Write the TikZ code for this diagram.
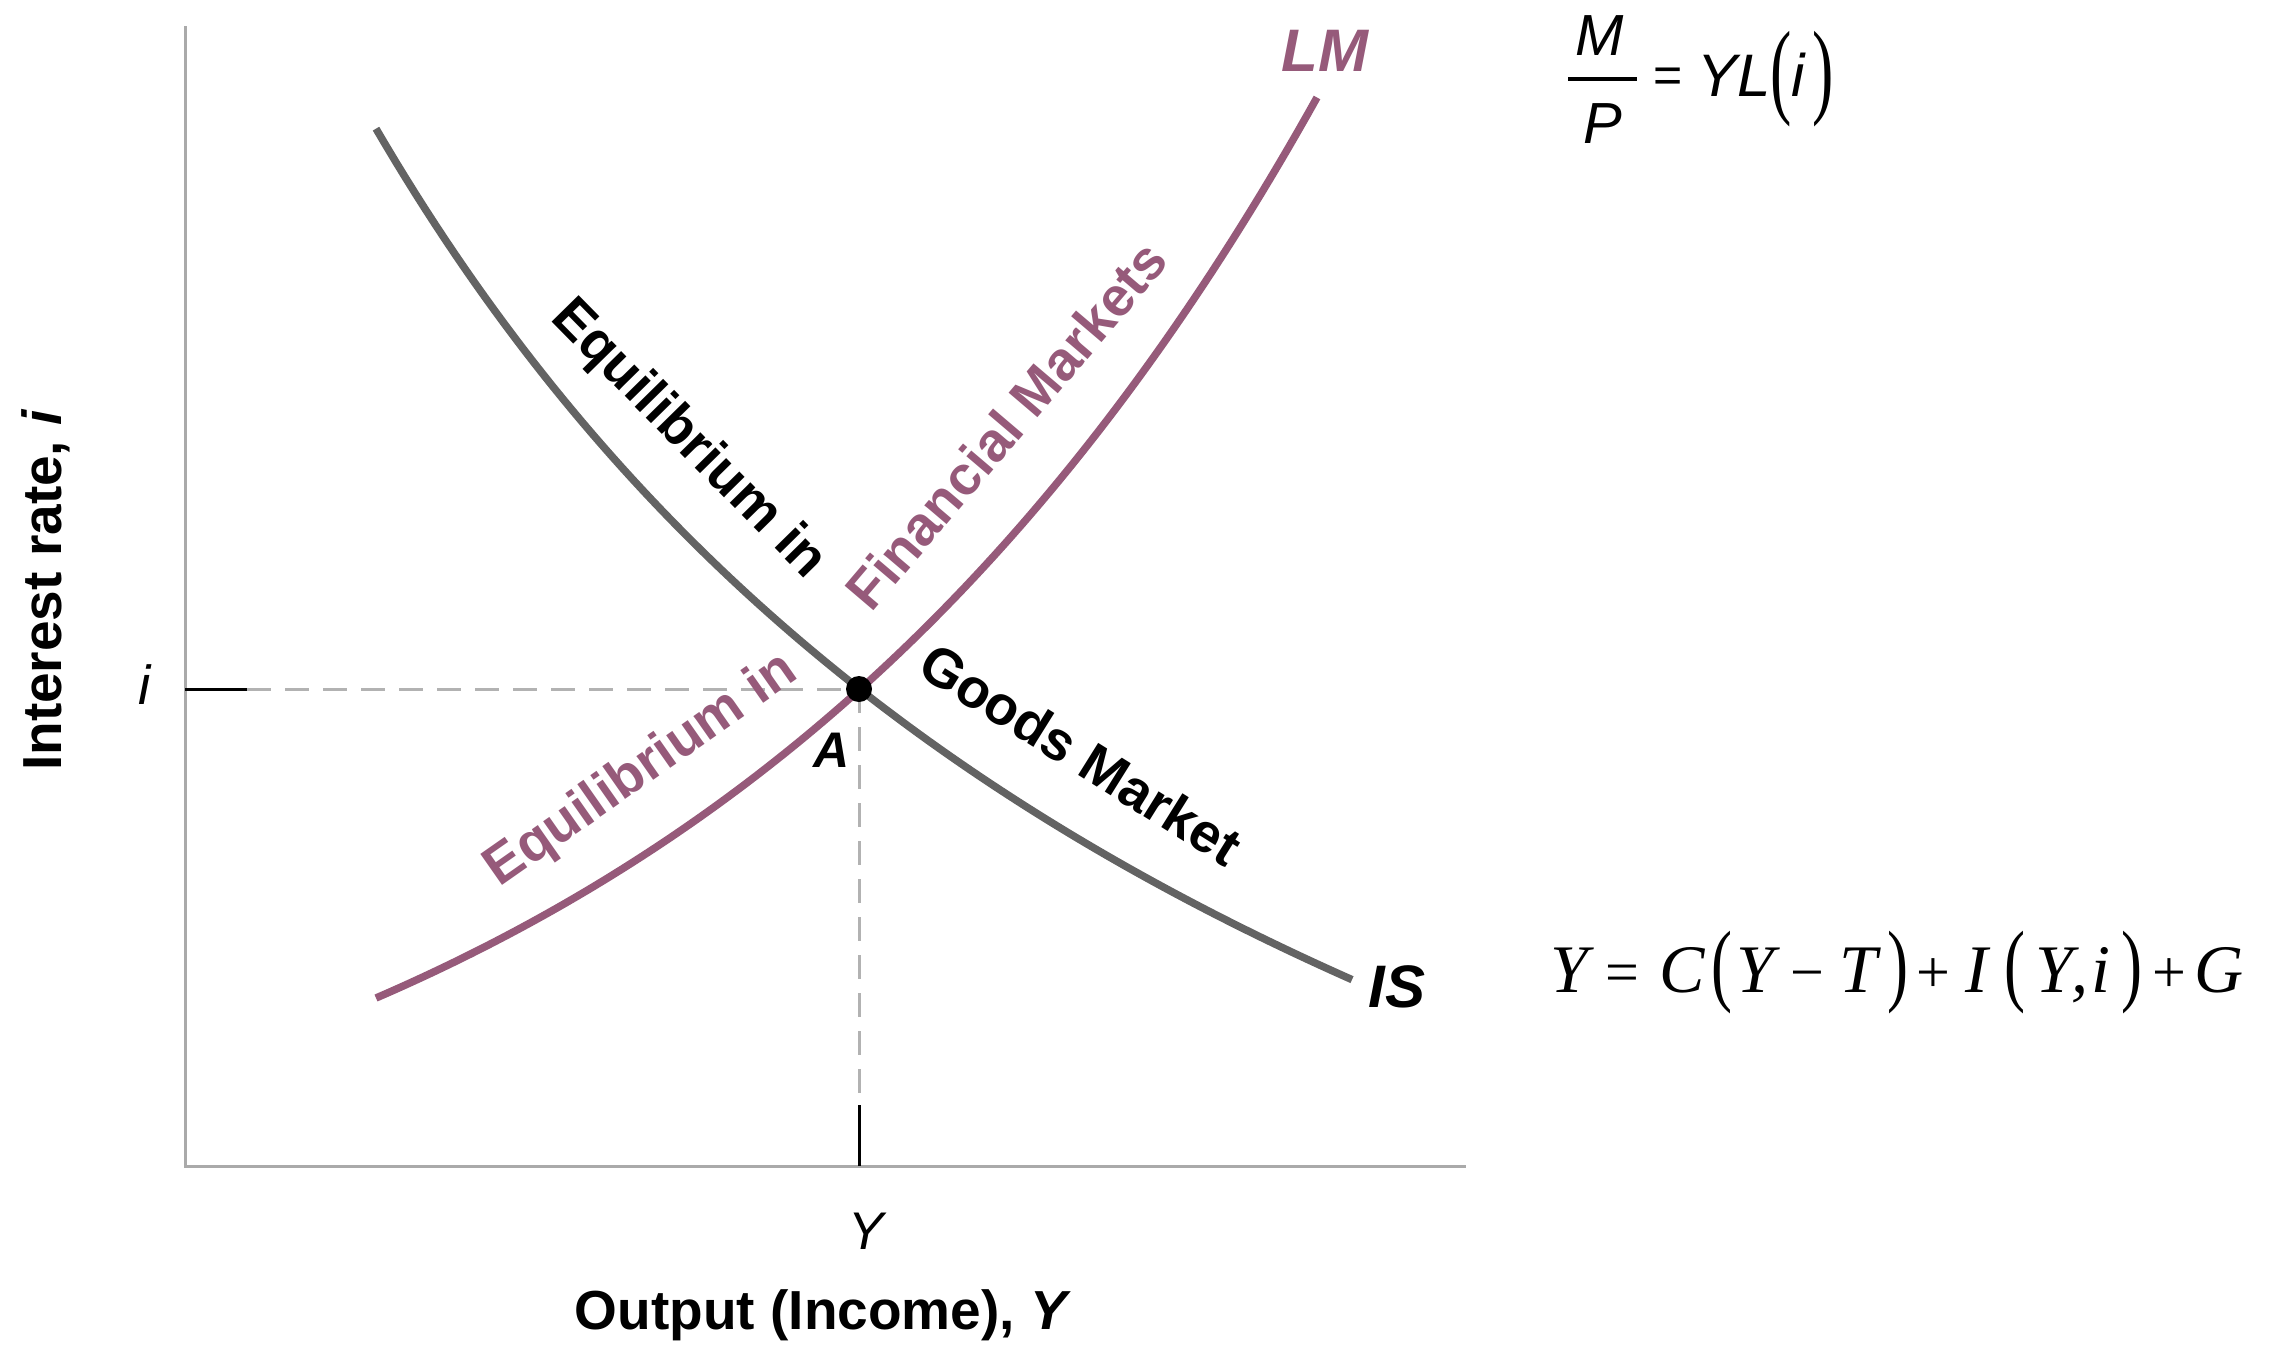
\documentclass[tikz,border=0pt]{standalone}
\usepackage{fontspec}
\setmainfont{Liberation Sans}
\newfontfamily\eqserif{Liberation Serif}
\newcommand{\fsz}[1]{\fontsize{#1}{#1}\selectfont}
\definecolor{lmcol}{RGB}{150,90,122}
\definecolor{iscol}{RGB}{99,99,99}
\definecolor{axcol}{RGB}{170,170,170}
\definecolor{dashcol}{RGB}{178,178,178}
\begin{document}
\begin{tikzpicture}[x=1pt,y=-1pt,
  axisline/.style={draw=axcol,line width=3pt},
  tickline/.style={draw=black,line width=3pt},
  guide/.style={draw=dashcol,line width=3pt,dash pattern=on 24pt off 14pt},
  isline/.style={draw=iscol,line width=7.5pt},
  lmline/.style={draw=lmcol,line width=7.5pt},
  curvetext/.style={font=\fsz{55}\bfseries,inner sep=0pt},
  lbl/.style={inner sep=0pt},
  eqs/.style={inner sep=0pt,anchor=base,font=\eqserif\fsz{68}\itshape},
  eqop/.style={inner sep=0pt,anchor=base,font=\eqserif\fsz{60}},
  eqpar/.style={inner sep=0pt,anchor=center,font=\eqserif\fsz{63}},
  dot/.style={circle,fill=black,inner sep=0pt,minimum size=26pt}]
\useasboundingbox (0,0) rectangle (2271,1347);
\fill[white] (0,0) rectangle (2271,1347);

% axes
\coordinate (ytop) at (185,26);
\coordinate (orig) at (185,1166);
\coordinate (xend) at (1466,1166);
\draw[axisline] (ytop) -- (orig) -- (xend);

% equilibrium point and guides
\coordinate (A) at (859,689);
\coordinate (itick0) at (185,689);
\coordinate (itick1) at (247,689);
\coordinate (ytick0) at (859,1166);
\coordinate (ytick1) at (859,1105);
\draw[guide] (itick1) -- (A);
\draw[guide] (A) -- (ytick1);
\draw[tickline] (itick0) -- (itick1);
\draw[tickline] (ytick0) -- (ytick1);

% IS curve
\draw[isline] plot[domain=376:1352,samples=100] (\x,{1862 - 10*(1754.133/((\x+636)/100))});
% LM curve
\draw[lmline] plot[domain=376:1317,samples=100] (\x,{1284.5 - 286.5*exp(0.001515*(\x-376))});

\node[dot] (Adot) at (A) {};

% curve labels
\node[curvetext,text=black,rotate=-45.5] (eqgoods1) at (688,440) {Equilibrium in};
\node[curvetext,text=black,rotate=-32] (eqgoods2) at (1081,754) {Goods Market};
\node[curvetext,text=lmcol,rotate=49.6] (eqfin2) at (1006,425) {Financial Markets};
\node[curvetext,text=lmcol,rotate=35] (eqfin1) at (642,771) {Equilibrium in};
\node[lbl,font=\fsz{50}\bfseries\itshape] (Alab) at (832,750) {A};
\node[lbl,font=\fsz{60}\bfseries\itshape,text=lmcol] (LMlab) at (1325,51) {LM};
\node[lbl,font=\fsz{60}\bfseries\itshape] (ISlab) at (1397,987) {IS};

% axis labels
\node[lbl,font=\fsz{55}\itshape] (ilab) at (145,685) {i};
\node[lbl,font=\fsz{53}\itshape] (Ylab) at (866,1231) {Y};
\node[lbl,font=\fsz{55}\bfseries] (xlab) at (823,1315) {Output (Income), \textit{Y}};
\node[lbl,font=\fsz{55}\bfseries,rotate=90] (ylab) at (46,590) {Interest rate, \textit{i}};

% LM equation
\node[lbl,anchor=base,font=\fsz{58}\itshape] (eqM) at (1600,55) {M};
\coordinate (barL) at (1568,79);
\coordinate (barR) at (1637,79);
\draw[line width=3.5pt] (barL) -- (barR);
\node[lbl,anchor=base,font=\fsz{58}\itshape] (eqP) at (1603,143) {P};
\node[lbl,font=\fsz{50}] (eqeq1) at (1668,80) {=};
\node[lbl,anchor=base west,font=\fsz{60}\itshape] (eqYL) at (1697,96) {YL};
\node[lbl,font=\eqserif\fsz{64}] (eqpl1) at (1781,79) {\scalebox{1}[1.65]{(}};
\node[lbl,anchor=base,font=\fsz{60}\itshape] (eqi1) at (1798,96) {i};
\node[lbl,font=\eqserif\fsz{64}] (eqpr1) at (1823,79) {\scalebox{1}[1.65]{)}};

% IS equation
\node[eqs] (s1) at (1569,992) {Y};
\node[eqop] (s2) at (1622,992) {=};
\node[eqs] (s3) at (1682,992) {C};
\node[eqpar] (s4) at (1722,973) {\scalebox{1}[1.45]{(}};
\node[eqs] (s5) at (1755,992) {Y};
\node[eqop] (s6) at (1807,992) {−};
\node[eqs] (s7) at (1858,992) {T};
\node[eqpar] (s8) at (1898,973) {\scalebox{1}[1.45]{)}};
\node[eqop] (s9) at (1933,992) {+};
\node[eqs] (s10) at (1977,992) {I};
\node[eqpar] (s11) at (2015,973) {\scalebox{1}[1.45]{(}};
\node[eqs] (s12) at (2054,992) {Y};
\node[eqs] (s13) at (2080,992) {,};
\node[eqs] (s14) at (2101,992) {i};
\node[eqpar] (s15) at (2132,973) {\scalebox{1}[1.45]{)}};
\node[eqop] (s16) at (2169,992) {+};
\node[eqs] (s17) at (2219,992) {G};
\end{tikzpicture}
\end{document}
